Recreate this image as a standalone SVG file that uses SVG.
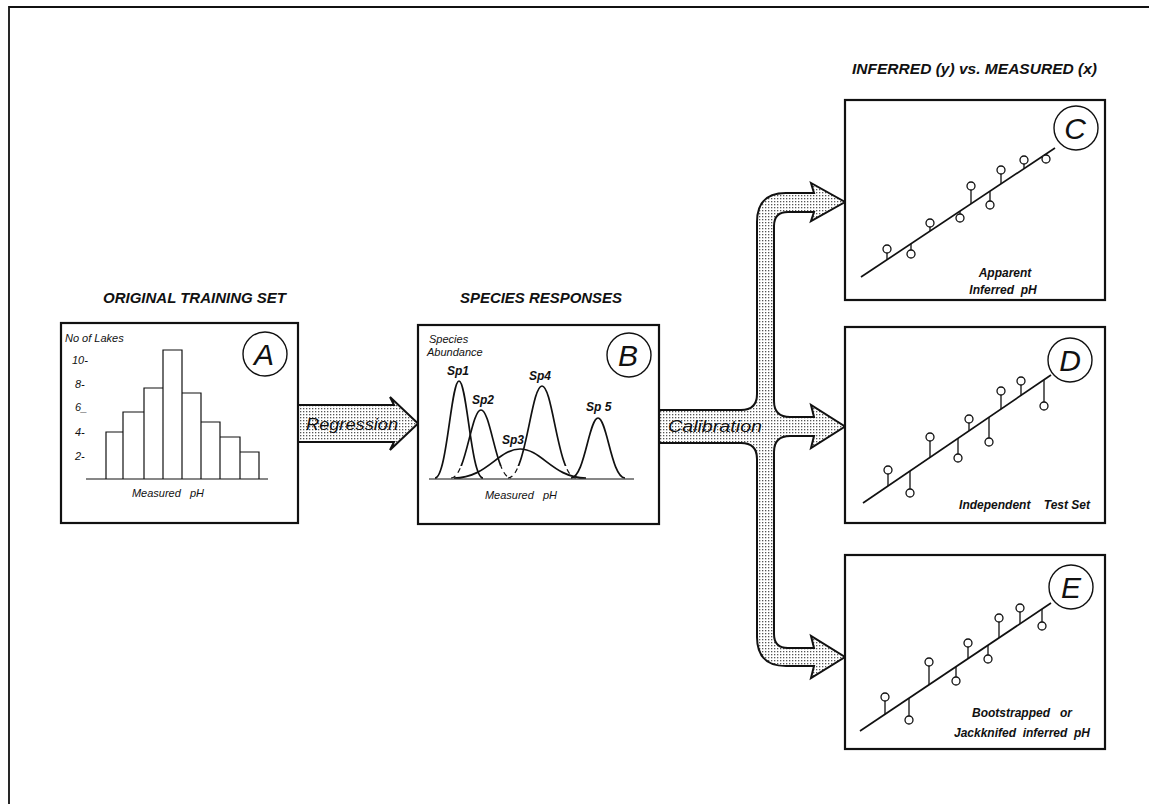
<svg xmlns="http://www.w3.org/2000/svg" width="1149" height="804" viewBox="0 0 1149 804">
<style>
.bg{fill:#fff}
.frame{fill:none;stroke:#111;stroke-width:1.8}
.box{fill:#fff;stroke:#111;stroke-width:2.2}
.lab{fill:none;stroke:#111;stroke-width:1.4}
.thin{fill:none;stroke:#111;stroke-width:1.2}
.reg{fill:none;stroke:#111;stroke-width:1.7}
.pt{fill:#fff;stroke:#111;stroke-width:1.3}
.stem{stroke:#111;stroke-width:1.3}
.arrowline{fill:none;stroke:#111;stroke-width:2;stroke-linejoin:miter}
.head{font-family:"Liberation Sans",Arial,sans-serif;font-style:italic;font-weight:bold;font-size:15px;fill:#111}
.big{font-family:"Liberation Sans",Arial,sans-serif;font-style:italic;font-size:30px;fill:#111;text-anchor:middle}
.sm{font-family:"Liberation Sans",Arial,sans-serif;font-style:italic;font-size:11px;fill:#111}
.smb{font-family:"Liberation Sans",Arial,sans-serif;font-style:italic;font-weight:bold;font-size:12px;fill:#111}
.arr{font-family:"Liberation Sans",Arial,sans-serif;font-style:italic;font-size:16px;fill:#111}
</style>
<defs>
<pattern id="stip" width="3" height="3" patternUnits="userSpaceOnUse">
<rect width="3" height="3" fill="#fff"/>
<rect width="1.3" height="1.3" fill="#555"/>
</pattern>
<clipPath id="upper"><rect x="400" y="320" width="260" height="146"/></clipPath>
<clipPath id="lower"><rect x="400" y="466" width="260" height="20"/></clipPath>
</defs>
<rect class="bg" x="0" y="0" width="1149" height="804"/>
<path class="frame" d="M1149 7 H9 V804"/>

<g id="connectors">
<g id="regression">
<path d="M298 405 H394 L390 397 L418 423.5 L390 450 L394 442 H298 Z" fill="url(#stip)" stroke="none"/>
<path class="arrowline" d="M298 405 H394 L390 397 L418 423.5 L390 450 L394 442 H298"/>
<text class="arr" x="306" y="430" textLength="92" lengthAdjust="spacingAndGlyphs">Regression</text>
</g>
<g id="calibration">
<path d="M659 410 H741 Q757 410 757 394 V222 Q757 193 786 193 H814 L811 183 L845 202 L811 221 L814 212 H788 Q774 212 774 226 V401 Q774 417 790 417 H814 L811 405 L845 426.5 L811 448 L814 436 H790 Q774 436 774 452 V634 Q774 648 788 648 H814 L811 636 L845 657 L811 678 L814 666 H786 Q757 666 757 637 V459 Q757 443 741 443 H659 Z" fill="url(#stip)" stroke="none"/>
<path class="arrowline" d="M659 410 H741 Q757 410 757 394 V222 Q757 193 786 193 H814 L811 183 L845 202 L811 221 L814 212 H788 Q774 212 774 226 V401 Q774 417 790 417 H814 L811 405 L845 426.5 L811 448 L814 436 H790 Q774 436 774 452 V634 Q774 648 788 648 H814 L811 636 L845 657 L811 678 L814 666 H786 Q757 666 757 637 V459 Q757 443 741 443 H659"/>
<text class="arr" x="668" y="432" textLength="94" lengthAdjust="spacingAndGlyphs">Calibration</text>
</g>
</g>

<g id="nodeA">
<text class="head" x="103" y="303" textLength="183" lengthAdjust="spacingAndGlyphs">ORIGINAL TRAINING SET</text>
<rect class="box" x="61" y="323" width="237" height="200"/>
<circle class="lab" cx="265" cy="354" r="22"/>
<text class="big" x="264" y="365">A</text>
<text class="sm" x="65" y="342">No of Lakes</text>
<text class="sm" x="72" y="364">10-</text>
<text class="sm" x="75" y="388">8-</text>
<text class="sm" x="75" y="411">6_</text>
<text class="sm" x="75" y="436">4-</text>
<text class="sm" x="75" y="460">2-</text>
<path class="thin" d="M86 479 H268"/>
<path class="thin" d="M106 479 V432 H123 V412 H144 V388 H163 V350 H182 V393 H201 V422 H220 V437 H240 V452 H259 V479 M123 479 V432 M144 479 V412 M163 479 V388 M182 479 V393 M201 479 V422 M220 479 V437 M240 479 V452"/>
<text class="sm" x="168" y="497" font-size="12" text-anchor="middle" xml:space="preserve">Measured   pH</text>
</g>

<g id="nodeB">
<text class="head" x="460" y="303" textLength="162" lengthAdjust="spacingAndGlyphs">SPECIES RESPONSES</text>
<rect class="box" x="418" y="325" width="241" height="199"/>
<circle class="lab" cx="629" cy="355" r="22"/>
<text class="big" x="628" y="366">B</text>
<text class="sm" x="429" y="343">Species</text>
<text class="sm" x="427" y="356">Abundance</text>
<path class="thin" d="M429 479 H634"/>
<path class="reg" d="M435 478 C447 478 451 381 459 381 C467 381 471 478 483 478"/>
<g clip-path="url(#upper)">
<path class="reg" d="M451 478 C466 478 471 410 481 410 C491 410 496 478 511 478"/>
<path class="reg" d="M508 478 C526 478 531 386 542 386 C553 386 558 478 576 478"/>
</g>
<g clip-path="url(#lower)">
<path class="thin" stroke-dasharray="5 4" d="M451 478 C466 478 471 410 481 410 C491 410 496 478 511 478"/>
<path class="thin" stroke-dasharray="5 4" d="M508 478 C526 478 531 386 542 386 C553 386 558 478 576 478"/>
</g>
<path class="reg" d="M454 478 C487 478 498 449 520 449 C542 449 553 478 586 478"/>
<path class="reg" d="M571 478 C584.5 478 589 418 598 418 C607 418 611.5 478 625 478"/>
<text class="smb" x="447" y="375">Sp1</text>
<text class="smb" x="472" y="404">Sp2</text>
<text class="smb" x="502" y="444">Sp3</text>
<text class="smb" x="529" y="380">Sp4</text>
<text class="smb" x="586" y="411">Sp 5</text>
<text class="sm" x="521" y="499" font-size="12" text-anchor="middle" xml:space="preserve">Measured   pH</text>
</g>

<text class="head" x="852" y="74" font-size="13" textLength="245" lengthAdjust="spacingAndGlyphs">INFERRED (y)  vs.  MEASURED (x)</text>

<g id="nodeC">
<rect class="box" x="845" y="100" width="260" height="200"/>
<circle class="lab" cx="1076" cy="128" r="22"/>
<text class="big" x="1075" y="139">C</text>
<path class="reg" d="M861 277 L1055 148"/>
<path class="stem" d="M887 253 V259.7 M911 243.8 V250 M930 227 V231.1 M960 211.2 V214 M971 190 V203.9 M990 191.2 V201 M1001 174 V183.9 M1024 164 V168.6 M1046 154 V155"/>
<g>
<circle class="pt" cx="887" cy="249" r="4"/><circle class="pt" cx="911" cy="254" r="4"/><circle class="pt" cx="930" cy="223" r="4"/><circle class="pt" cx="960" cy="218" r="4"/><circle class="pt" cx="971" cy="186" r="4"/><circle class="pt" cx="990" cy="205" r="4"/><circle class="pt" cx="1001" cy="170" r="4"/><circle class="pt" cx="1024" cy="160" r="4"/><circle class="pt" cx="1046" cy="159" r="4"/>
</g>
<text class="smb" x="1005" y="277" text-anchor="middle">Apparent</text>
<text class="smb" x="1003" y="294" text-anchor="middle" xml:space="preserve">Inferred  pH</text>
</g>

<g id="nodeD">
<rect class="box" x="845" y="327" width="260" height="196"/>
<circle class="lab" cx="1070" cy="360" r="22"/>
<text class="big" x="1070" y="371">D</text>
<path class="reg" d="M863 503 L1051 375"/>
<path class="stem" d="M888 474 V486 M910 471 V489 M930 441 V457.4 M958 438.3 V454 M969 423 V430.8 M989 417.2 V438 M1001 395 V409 M1021 385 V395.4 M1044 379.8 V402"/>
<g>
<circle class="pt" cx="888" cy="470" r="4"/><circle class="pt" cx="910" cy="493" r="4"/><circle class="pt" cx="930" cy="437" r="4"/><circle class="pt" cx="958" cy="458" r="4"/><circle class="pt" cx="969" cy="419" r="4"/><circle class="pt" cx="989" cy="442" r="4"/><circle class="pt" cx="1001" cy="391" r="4"/><circle class="pt" cx="1021" cy="381" r="4"/><circle class="pt" cx="1044" cy="406" r="4"/>
</g>
<text class="smb" x="1090" y="509" text-anchor="end" xml:space="preserve">Independent    Test Set</text>
</g>

<g id="nodeE">
<rect class="box" x="845" y="555" width="260" height="194"/>
<circle class="lab" cx="1071" cy="587" r="22"/>
<text class="big" x="1071" y="598">E</text>
<path class="reg" d="M860 731 L1051 603"/>
<path class="stem" d="M885 701 V714.2 M909 698.2 V716 M929 666 V684.8 M956 666.7 V677 M968 647 V658.6 M988 645.2 V655 M999 622 V637.8 M1020 612 V623.8 M1042 609 V622"/>
<g>
<circle class="pt" cx="885" cy="697" r="4"/><circle class="pt" cx="909" cy="720" r="4"/><circle class="pt" cx="929" cy="662" r="4"/><circle class="pt" cx="956" cy="681" r="4"/><circle class="pt" cx="968" cy="643" r="4"/><circle class="pt" cx="988" cy="659" r="4"/><circle class="pt" cx="999" cy="618" r="4"/><circle class="pt" cx="1020" cy="608" r="4"/><circle class="pt" cx="1042" cy="626" r="4"/>
</g>
<text class="smb" x="1022" y="717" text-anchor="middle" xml:space="preserve">Bootstrapped   or</text>
<text class="smb" x="1022" y="737" text-anchor="middle" xml:space="preserve">Jackknifed  inferred  pH</text>
</g>
</svg>
